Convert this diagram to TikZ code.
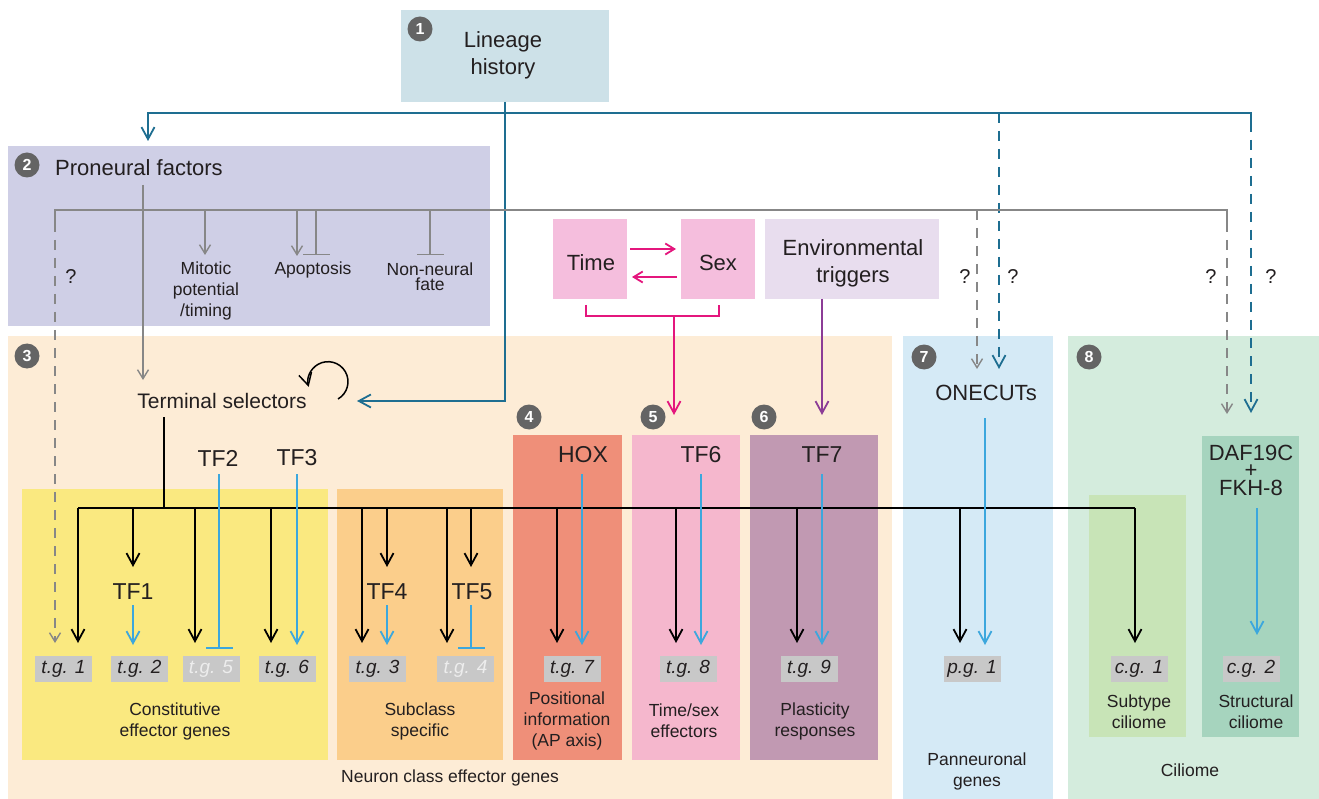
\documentclass[tikz,border=0pt]{standalone}
\usepackage{fontspec}
\setmainfont{Liberation Sans}
\usetikzlibrary{arrows.meta}
\definecolor{txt}{HTML}{231F20}
\definecolor{linfill}{HTML}{CDE1E8}
\definecolor{pronfill}{HTML}{CFCFE6}
\definecolor{neurfill}{HTML}{FDECD6}
\definecolor{yelfill}{HTML}{FAE980}
\definecolor{orafill}{HTML}{FBCE8B}
\definecolor{hoxfill}{HTML}{EF8F79}
\definecolor{tfsixfill}{HTML}{F5B7CD}
\definecolor{tfsevfill}{HTML}{C199B2}
\definecolor{timefill}{HTML}{F5BEDD}
\definecolor{envfill}{HTML}{E8DDEE}
\definecolor{onefill}{HTML}{D5EAF6}
\definecolor{cilfill}{HTML}{D4ECDD}
\definecolor{subfill}{HTML}{C8E4B7}
\definecolor{strfill}{HTML}{A6D4BE}
\definecolor{tagfill}{HTML}{C8C8C8}
\definecolor{tealc}{HTML}{1E6E91}
\definecolor{lblue}{HTML}{3CA7DD}
\definecolor{magc}{HTML}{E4167D}
\definecolor{purc}{HTML}{8C3C96}
\definecolor{greyl}{HTML}{878787}
\definecolor{badgec}{HTML}{646464}
\begin{document}
\begin{tikzpicture}[x=1pt,y=-1pt,
  panel/.style={rectangle, draw=none, inner sep=0pt, outer sep=0pt, anchor=north west},
  big/.style={font=\fontsize{22}{27}\selectfont, text=txt, inner sep=0pt, align=center},
  tfl/.style={font=\fontsize{23}{27}\selectfont, text=txt, inner sep=0pt},
  small/.style={font=\fontsize{17.5}{21}\selectfont, text=txt, align=center, inner sep=0pt},
  tag/.style={rectangle, fill=tagfill, minimum width=57pt, minimum height=26pt, inner sep=0pt, font=\fontsize{19}{20}\selectfont\itshape, text=txt},
  dimtag/.style={tag, text=white!93!black},
  badge/.style={circle, fill=badgec, text=white, minimum size=25pt, inner sep=0pt, font=\fontsize{16}{16}\selectfont\bfseries},
  qm/.style={font=\fontsize{20}{20}\selectfont, text=txt, inner sep=0pt},
  arr/.style={-{Straight Barb[length=12pt,width=13pt]}},
  sarr/.style={-{Straight Barb[length=9pt,width=11pt]}},
  barT/.style={-{Bar[width=27pt]}},
  blk/.style={draw=black, line width=1.8pt},
  blu/.style={draw=lblue, line width=1.8pt},
  gry/.style={draw=greyl, line width=1.4pt},
  tln/.style={draw=tealc, line width=1.8pt},
  mgl/.style={draw=magc, line width=1.8pt},
  dsh/.style={dash pattern=on 10pt off 8pt}
]
\useasboundingbox[fill=white] (0,0) rectangle (1319,799);
% ---------- panels ----------
\node[panel, fill=linfill, minimum width=208pt, minimum height=92pt] (lin) at (401,10) {};
\node[panel, fill=pronfill, minimum width=482pt, minimum height=180pt] (pron) at (8,146) {};
\node[panel, fill=timefill, minimum width=74pt, minimum height=80pt] (time) at (553,219) {};
\node[panel, fill=timefill, minimum width=74pt, minimum height=80pt] (sex) at (681,219) {};
\node[panel, fill=envfill, minimum width=174pt, minimum height=80pt] (env) at (765,219) {};
\node[panel, fill=neurfill, minimum width=884pt, minimum height=463pt] (neur) at (8,336) {};
\node[panel, fill=yelfill, minimum width=306pt, minimum height=271pt] (yel) at (22,489) {};
\node[panel, fill=orafill, minimum width=166pt, minimum height=271pt] (ora) at (337,489) {};
\node[panel, fill=hoxfill, minimum width=109pt, minimum height=325pt] (hoxp) at (513,435) {};
\node[panel, fill=tfsixfill, minimum width=108pt, minimum height=325pt] (sixp) at (632,435) {};
\node[panel, fill=tfsevfill, minimum width=128pt, minimum height=325pt] (sevp) at (750,435) {};
\node[panel, fill=onefill, minimum width=150pt, minimum height=463pt] (onep) at (903,336) {};
\node[panel, fill=cilfill, minimum width=251pt, minimum height=463pt] (cilp) at (1068,336) {};
\node[panel, fill=subfill, minimum width=97pt, minimum height=242pt] (subp) at (1089,495) {};
\node[panel, fill=strfill, minimum width=97pt, minimum height=301pt] (strp) at (1202,436) {};
% ---------- badges ----------
\node[badge] (b1) at (420,29) {1};
\node[badge] (b2) at (27,165) {2};
\node[badge] (b3) at (27,356) {3};
\node[badge] (b4) at (529,417) {4};
\node[badge] (b5) at (653,417) {5};
\node[badge] (b6) at (764,417) {6};
\node[badge] (b7) at (924,357) {7};
\node[badge] (b8) at (1089,357) {8};
% ---------- main texts ----------
\node[big] (lintxt) at (503,55) {Lineage\\history};
\node[big, anchor=west] (prontxt) at (55,168) {Proneural factors};
\node[big] (timetxt) at (591,263) {Time};
\node[big] (sextxt) at (718,263) {Sex};
\node[big] (envtxt) at (853,263) {Environmental\\triggers};
\node[big, font=\fontsize{21}{25}\selectfont] (term) at (222,401) {Terminal selectors};
\node[tfl] (tf2) at (218,458) {TF2};
\node[tfl] (tf3) at (297,458) {TF3};
\node[tfl] (tf1) at (133,592) {TF1};
\node[tfl] (tf4) at (387,592) {TF4};
\node[tfl] (tf5) at (472,592) {TF5};
\node[tfl] (hox) at (583,455) {HOX};
\node[tfl] (tf6) at (701,455) {TF6};
\node[tfl] (tf7) at (822,455) {TF7};
\node[big] (onecut) at (986,393) {ONECUTs};
\node[big, font=\fontsize{22}{17.5}\selectfont, anchor=base] (daf) at (1251,495) {DAF19C\\+\\FKH-8};
% ---------- small texts ----------
\node[small] (mitotic) at (206,291) {Mitotic\\potential\\/timing};
\node[small] (apop) at (313,270) {Apoptosis};
\node[small, font=\fontsize{17.5}{15}\selectfont] (nonneur) at (430,277) {Non-neural\\fate};
\node[small] (constit) at (175,721) {Constitutive\\effector genes};
\node[small] (subcl) at (420,721) {Subclass\\specific};
\node[small] (neurcl) at (450,778) {Neuron class effector genes};
\node[small] (posit) at (567,721) {Positional\\information\\(AP axis)};
\node[small] (timesex) at (684,721) {Time/sex\\effectors};
\node[small] (plast) at (815,721) {Plasticity\\responses};
\node[small] (pann) at (977,771) {Panneuronal\\genes};
\node[small] (subtxt) at (1139,712) {Subtype\\ciliome};
\node[small] (strtxt) at (1256,712) {Structural\\ciliome};
\node[small] (ciltxt) at (1190,770) {Ciliome};
\node[qm] (q1) at (71,277) {?};
\node[qm] (q2) at (965,277) {?};
\node[qm] (q3) at (1013,277) {?};
\node[qm] (q4) at (1211,277) {?};
\node[qm] (q5) at (1271,277) {?};
% ---------- target gene tags ----------
\node[tag] (tg1) at (63.5,669) {t.g. 1};
\node[tag] (tg2) at (139.5,669) {t.g. 2};
\node[dimtag] (tg5) at (211,669) {t.g. 5};
\node[tag] (tg6) at (287,669) {t.g. 6};
\node[tag] (tg3) at (377.5,669) {t.g. 3};
\node[dimtag] (tg4) at (465.5,669) {t.g. 4};
\node[tag] (tg7) at (572,669) {t.g. 7};
\node[tag] (tg8) at (688,669) {t.g. 8};
\node[tag] (tg9) at (809,669) {t.g. 9};
\node[tag] (pg1) at (972,669) {p.g. 1};
\node[tag] (cg1) at (1139,669) {c.g. 1};
\node[tag] (cg2) at (1251,669) {c.g. 2};
% ---------- coordinates ----------
\coordinate (tj) at (505,113);
\coordinate (tr) at (1251,113);
\coordinate (gl) at (55,210);
\coordinate (gr) at (1227,210);
\coordinate (bl) at (78,508);
\coordinate (br) at (1135,508);
\coordinate (pstem) at (143,185);
% ---------- teal (lineage) ----------
\draw[tln, arr] (lin.south) |- (357,401);
\draw[tln, arr] (tj) -| (148,141);
\draw[tln] (tj) -- (tr) -- (1251,122);
\draw[tln, dsh, arr] (1251,122) -- (1251,413);
\draw[tln, dsh, arr] (999,113) -- (999,369);
% ---------- grey (proneural) ----------
\draw[gry, sarr] (pstem) -- (143,380);
\draw[gry] (55,222) -- (gl) -- (gr) -- (1227,222);
\draw[gry, dsh, sarr] (55,222) -- (55,643);
\draw[gry, dsh, sarr] (1227,222) -- (1227,414);
\draw[gry, dsh, sarr] (977,210) -- (977,369);
\draw[gry, sarr] (205,210) -- (205,255);
\draw[gry, sarr] (297,210) -- (297,256);
\draw[gry, -{Bar[width=27pt]}] (316,210) -- (316,255);
\draw[gry, -{Bar[width=27pt]}] (430,210) -- (430,255);
% ---------- magenta / purple ----------
\draw[mgl, sarr] (630,249) -- (676,249);
\draw[mgl, sarr] (677,277) -- (632,277);
\draw[mgl] (586,305) -- (586,316) -- (719,316) -- (719,305);
\draw[mgl, arr] (674,316) -- (674,415);
\draw[draw=purc, line width=1.8pt, arr] (env.south -| 822,0) -- (822,415);
% ---------- black (terminal selectors) ----------
\draw[blk, line width=1.5pt, arr] (338,399) arc[start angle=60, end angle=-195, radius=20];
\draw[blk] (164,417) -- (164,508);
\draw[blk] (bl) -- (br);
\foreach \xx in {78,195,271,362,447,557,676,797,960,1135}
  \draw[blk, arr] (\xx,508) -- (\xx,643);
\foreach \xx in {133,387,471}
  \draw[blk, arr] (\xx,508) -- (\xx,567);
% ---------- blue (other TFs) ----------
\draw[blu, barT] (219,474) -- (219,649);
\draw[blu, arr] (297,474) -- (297,645);
\draw[blu, arr] (133,605) -- (133,645);
\draw[blu, arr] (387,605) -- (387,645);
\draw[blu, barT] (471,605) -- (471,649);
\draw[blu, arr] (582,474) -- (582,645);
\draw[blu, arr] (701,474) -- (701,645);
\draw[blu, arr] (822,474) -- (822,645);
\draw[blu, arr] (985,418) -- (985,645);
\draw[blu, arr] (1257,508) -- (1257,635);
\end{tikzpicture}
\end{document}
